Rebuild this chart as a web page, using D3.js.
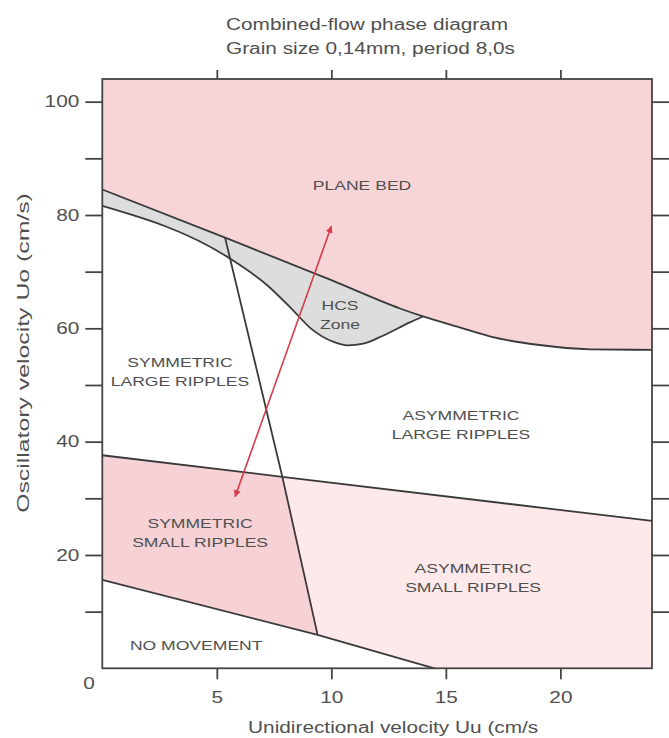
<!DOCTYPE html>
<html>
<head>
<meta charset="UTF-8">
<title>Combined-flow phase diagram</title>
<script src="https://d3js.org/d3.v7.min.js"></script>
<style>
  body { margin: 0; background: #fff; }
  text { font-family: "Liberation Sans", Arial, sans-serif; fill: #505050; }
</style>
</head>
<body>
<svg width="669" height="738"></svg>
<script>
// field boundaries, [Uu, Uo] in cm/s
const planeBedEdge = [[0, 84.5], [5.36, 76.0], [10, 68.5], [13, 63.5], [14, 62.1], [15.5, 60.3], [17, 58.5], [19, 57.1], [21.3, 56.3], [24, 56.2]];
const hcsLowerEdge = [[0, 81.6], [5.5, 72.5], [7.2, 67.6], [8.3, 63.3], [9.1, 60.0], [10.1, 57.6], [10.7, 57.0], [11.4, 57.3], [12.2, 58.6], [13.4, 61.0], [14, 62.1]];
const smallLargeEdge = [[0, 37.6], [7.86, 33.8], [24, 26.0]];
const symAsymEdge = [[5.36, 76.0], [7.86, 33.8], [9.4, 5.9]];
const movementEdge = [[0, 15.6], [9.4, 5.9], [14.5, 0]];
const arrowEnds = [[5.8, 30.3], [10.0, 78.0]];

const xTicks = [5, 10, 15, 20];
const yTicks = [10, 20, 30, 40, 50, 60, 70, 80, 90, 100];
const yLabelled = [20, 40, 60, 80, 100];

const fieldLabels = [
  { lines: ['PLANE BED'], at: [11.34, 85.3] },
  { lines: ['HCS', 'Zone'], at: [10.38, 62.4] },
  { lines: ['SYMMETRIC', 'LARGE RIPPLES'], at: [3.39, 52.3] },
  { lines: ['ASYMMETRIC', 'LARGE RIPPLES'], at: [15.66, 43.0] },
  { lines: ['SYMMETRIC', 'SMALL RIPPLES'], at: [4.27, 24.0] },
  { lines: ['ASYMMETRIC', 'SMALL RIPPLES'], at: [16.19, 16.0] },
  { lines: ['NO MOVEMENT'], at: [4.1, 4.1] }
];

const titleLines = ['Combined-flow phase diagram', 'Grain size 0,14mm, period 8,0s'];
const xTitle = 'Unidirectional velocity Uu (cm/s';
const yTitle = 'Oscillatory velocity Uo (cm/s)';

const svg = d3.select('svg');
const x = d3.scaleLinear().domain([0, 24]).range([102.3, 652]);
const y = d3.scaleLinear().domain([0, 104]).range([668.3, 79]);

// the scan is stretched sideways, so widen the lettering a bit
function widen(sel, k) {
  sel.each(function () {
    const w = this.getComputedTextLength();
    d3.select(this).attr('textLength', w * k).attr('lengthAdjust', 'spacingAndGlyphs');
  });
}

const line = d3.line().x(d => x(d[0])).y(d => y(d[1]));
const smooth = d3.line().x(d => x(d[0])).y(d => y(d[1])).curve(d3.curveMonotoneX);

// plane bed field
svg.append('path')
  .datum(planeBedEdge)
  .attr('fill', '#f7d4d7')
  .attr('d', d3.area().x(d => x(d[0])).y0(y(104)).y1(d => y(d[1])).curve(d3.curveMonotoneX));

// HCS zone between the two upper edges
const hcsTop = planeBedEdge.filter(d => d[0] <= 14);
svg.append('path')
  .attr('fill', '#dddddd')
  .attr('d', smooth(hcsTop) + smooth(hcsLowerEdge.slice().reverse()).replace(/^M/, 'L') + 'Z');

// small ripple fields
const symSmall = [smallLargeEdge[0], smallLargeEdge[1], symAsymEdge[2], movementEdge[0]];
const asymSmall = [smallLargeEdge[1], smallLargeEdge[2], [24, 0], movementEdge[2], movementEdge[1]];
svg.append('path').attr('fill', '#f6d1d5').attr('d', line(symSmall) + 'Z');
svg.append('path').attr('fill', '#fde8ea').attr('d', line(asymSmall) + 'Z');

// boundaries
const edges = svg.append('g').attr('fill', 'none').attr('stroke', '#3a3a3a').attr('stroke-width', 1.8);
edges.append('path').attr('d', smooth(planeBedEdge));
edges.append('path').attr('d', smooth(hcsLowerEdge));
edges.append('path').attr('d', line(smallLargeEdge));
edges.append('path').attr('d', line(symAsymEdge));
edges.append('path').attr('d', line(movementEdge));

// red double arrow
svg.append('defs').append('marker')
  .attr('id', 'head')
  .attr('viewBox', '0 0 10 10')
  .attr('refX', 9).attr('refY', 5)
  .attr('markerWidth', 8).attr('markerHeight', 7)
  .attr('markerUnits', 'userSpaceOnUse')
  .attr('orient', 'auto-start-reverse')
  .append('path').attr('d', 'M0,0L10,5L0,10Z').attr('fill', '#d63c48');
svg.append('path')
  .attr('d', line(arrowEnds))
  .attr('stroke', '#d63c48').attr('stroke-width', 1.6).attr('fill', 'none')
  .attr('marker-start', 'url(#head)').attr('marker-end', 'url(#head)');

// field labels
fieldLabels.forEach(f => {
  f.lines.forEach((t, i) => {
    svg.append('text')
      .attr('x', x(f.at[0]))
      .attr('y', y(f.at[1]) + (i - (f.lines.length - 1) / 2) * 19)
      .attr('dy', '0.35em')
      .attr('text-anchor', 'middle')
      .attr('font-size', 13.5)
      .text(t)
      .call(widen, 1.3);
  });
});

// axes
function styleAxis(g) {
  g.select('.domain').remove();
  g.selectAll('.tick line').attr('stroke', '#444').attr('stroke-width', 1.8);
  g.selectAll('.tick text').attr('fill', '#505050').attr('font-size', 16)
    .style('font-family', '"Liberation Sans", Arial, sans-serif');
}

svg.append('g')
  .attr('transform', `translate(${x(0)},0)`)
  .call(d3.axisLeft(y).tickValues(yTicks).tickSize(17).tickPadding(6)
    .tickFormat(d => yLabelled.includes(d) ? d : ''))
  .call(styleAxis)
  .call(g => g.selectAll('.tick text').call(widen, 1.3));

svg.append('g')
  .attr('transform', `translate(${x(24)},0)`)
  .call(d3.axisRight(y).tickValues(yTicks).tickSize(17).tickFormat(''))
  .call(styleAxis);

svg.append('g')
  .attr('transform', `translate(0,${y(104)})`)
  .call(d3.axisTop(x).tickValues(xTicks).tickSize(9).tickFormat(''))
  .call(styleAxis);

svg.append('g')
  .attr('transform', `translate(0,${y(0)})`)
  .call(d3.axisBottom(x).tickValues(xTicks).tickSize(11).tickPadding(12))
  .call(styleAxis)
  .call(g => g.selectAll('.tick text').call(widen, 1.3));

// shared origin label
svg.append('text')
  .attr('x', 89).attr('y', y(0) + 15)
  .attr('dy', '0.35em')
  .attr('text-anchor', 'middle')
  .attr('font-size', 16)
  .text('0')
  .call(widen, 1.3);

// frame
svg.append('rect')
  .attr('x', x(0)).attr('y', y(104))
  .attr('width', x(24) - x(0)).attr('height', y(0) - y(104))
  .attr('fill', 'none').attr('stroke', '#444').attr('stroke-width', 1.8);

// titles
titleLines.forEach((t, i) => {
  svg.append('text')
    .attr('x', 226).attr('y', 30 + i * 24)
    .attr('font-size', 16)
    .text(t)
    .call(widen, 1.3);
});

svg.append('text')
  .attr('x', (x(0) + x(24)) / 2 + 16).attr('y', 733)
  .attr('text-anchor', 'middle')
  .attr('font-size', 16)
  .text(xTitle)
  .call(widen, 1.3);

svg.append('text')
  .attr('transform', `translate(29,353) rotate(-90)`)
  .attr('text-anchor', 'middle')
  .attr('font-size', 16)
  .text(yTitle)
  .call(widen, 1.55);
</script>
</body>
</html>
